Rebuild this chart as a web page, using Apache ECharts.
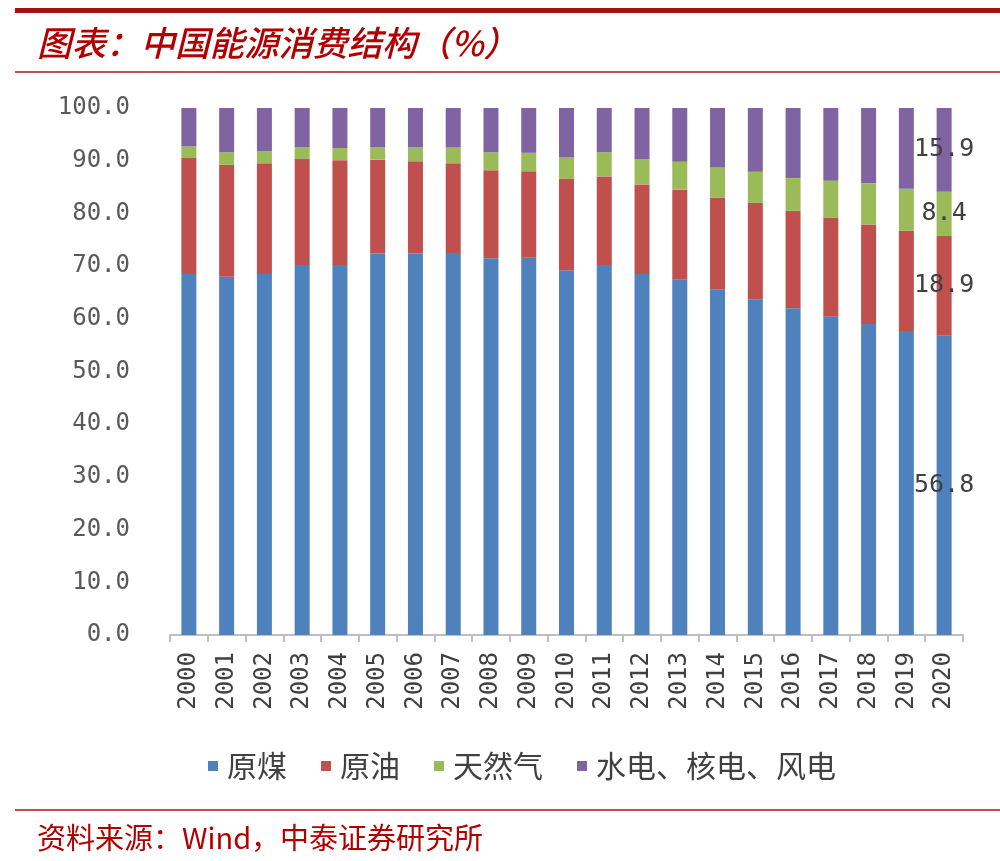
<!DOCTYPE html>
<html>
<head>
<meta charset="utf-8">
<script src="https://cdn.jsdelivr.net/npm/echarts@6/dist/echarts.min.js"></script>
<style>
html,body{margin:0;padding:0;background:#fff;}
#chart{width:1000px;height:861px;}
</style>
</head>
<body>
<div id="chart"></div>
<script>
const years = ['2000','2001','2002','2003','2004','2005','2006','2007','2008','2009','2010','2011','2012','2013','2014','2015','2016','2017','2018','2019','2020'];
const coal  = [68.5,68.0,68.5,70.2,70.2,72.4,72.4,72.5,71.5,71.6,69.2,70.2,68.5,67.4,65.6,63.7,62.0,60.4,59.0,57.7,56.8];
const oil   = [22.0,21.2,21.0,20.1,19.9,17.8,17.5,17.0,16.7,16.4,17.4,16.8,17.0,17.1,17.4,18.3,18.5,18.8,18.9,19.0,18.9];
const gas   = [2.2,2.4,2.3,2.3,2.3,2.4,2.7,3.0,3.4,3.5,4.0,4.6,4.8,5.3,5.7,5.9,6.2,7.0,7.8,8.0,8.4];
const clean = [7.3,8.4,8.2,7.4,7.6,7.4,7.4,7.5,8.4,8.5,9.4,8.4,9.7,10.2,11.3,12.1,13.3,13.8,14.3,15.3,15.9];
const seriesNames = ['原煤','原油','天然气','水电、核电、风电'];
const seriesColors = ['#4f81bd','#c0504d','#9bbb59','#8064a2'];
const titleText = '图表：中国能源消费结构（%）';
const sourceText = '资料来源：Wind，中泰证券研究所';

const numFont = '"DejaVu Sans Mono", monospace';
const cjkFont = '"Noto Sans CJK SC", sans-serif';

function mkData(arr){
  const last = arr.length - 1;
  return arr.map((v,i)=> i===last ? {value:v, label:{show:true}} : {value:v});
}

const allData = [coal, oil, gas, clean];
const series = allData.map((arr, k) => ({
  name: seriesNames[k],
  type: 'bar',
  stack: 'total',
  barWidth: 15,
  itemStyle: {color: seriesColors[k]},
  label: {
    show: false,
    position: 'inside',
    formatter: p => p.value.toFixed(1),
    fontFamily: numFont,
    fontSize: 25,
    color: '#404040'
  },
  emphasis: {disabled: true},
  data: mkData(arr)
}));

const chart = echarts.init(document.getElementById('chart'), null, {renderer:'canvas'});
chart.setOption({
  animation: false,
  backgroundColor: '#fff',
  grid: {left: 170, right: 37, top: 108, bottom: 226, containLabel: false},
  legend: {
    left: 203,
    top: 746,
    itemWidth: 10,
    itemHeight: 10,
    itemGap: 34,
    icon: 'rect',
    textStyle: {fontFamily: cjkFont, fontSize: 30, color: '#404040', padding:[0,0,0,4]},
    data: seriesNames
  },
  xAxis: {
    type: 'category',
    data: years,
    axisLine: {lineStyle: {color: '#bfbfbf', width: 2}},
    axisTick: {show: true, length: 7, lineStyle: {color: '#bfbfbf', width: 2}},
    axisLabel: {rotate: 90, margin: 17, fontFamily: numFont, fontSize: 24, color: '#404040', interval: 0}
  },
  yAxis: {
    type: 'value',
    min: 0, max: 100, interval: 10,
    axisLine: {show: false},
    axisTick: {show: false},
    splitLine: {show: false},
    axisLabel: {margin: 40, fontFamily: numFont, fontSize: 24, color: '#595959', formatter: v => v.toFixed(1)}
  },
  graphic: [
    {type:'rect', shape:{x:15, y:8, width:985, height:5}, style:{fill:'#a50f0f'}},
    {type:'text', x: 37, y: 43, style:{text: titleText, fill:'#b20000', verticalAlign:'middle', font:'italic 500 34.5px "Noto Sans CJK SC", sans-serif'}},
    {type:'rect', shape:{x:15, y:71, width:985, height:2}, style:{fill:'#c0504d'}},
    {type:'rect', shape:{x:15, y:809, width:985, height:2}, style:{fill:'#c0504d'}},
    {type:'text', x: 37, y: 838, style:{text: sourceText, fill:'#b20000', verticalAlign:'middle', font:'29px "Noto Sans CJK SC", sans-serif'}}
  ],
  series: series
});
</script>
</body>
</html>
